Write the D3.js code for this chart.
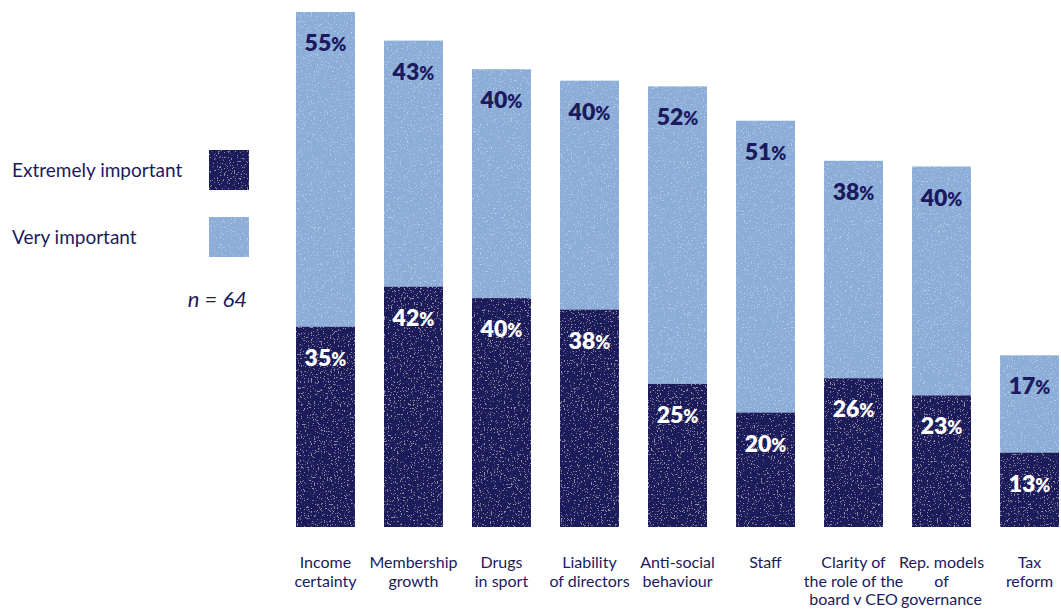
<!DOCTYPE html>
<html>
<head>
<meta charset="utf-8">
<script src="https://cdn.jsdelivr.net/npm/d3@7"></script>
<style>
  html, body { margin: 0; padding: 0; background: #fff; }
  svg { display: block; }
  text { font-family: Lato, "Open Sans", sans-serif; }
</style>
</head>
<body>
<svg id="chart" width="1061" height="612"></svg>
<script>
// Issues rated by importance (percent of respondents)
const categories = [
  ["Income", "certainty"],
  ["Membership", "growth"],
  ["Drugs", "in sport"],
  ["Liability", "of directors"],
  ["Anti-social", "behaviour"],
  ["Staff"],
  ["Clarity of", "the role of the", "board v CEO"],
  ["Rep. models", "of", "governance"],
  ["Tax", "reform"]
];
const extremelyImportant = [35, 42, 40, 38, 25, 20, 26, 23, 13];
const veryImportant      = [55, 43, 40, 40, 52, 51, 38, 40, 17];
const seriesNames = ["Extremely important", "Very important"];
const sampleNote = "n = 64";

const DARK = "#1c1a5b";
const LIGHT = "#8cadd7";
const INK = "#1c1a5e";

const svg = d3.select("#chart");

// light speckle texture, like ink on rough paper
const defs = svg.append("defs");
const f = defs.append("filter").attr("id", "grain")
  .attr("x", 0).attr("y", 0).attr("width", 1).attr("height", 1);
f.append("feTurbulence").attr("type", "fractalNoise")
  .attr("baseFrequency", 0.7).attr("numOctaves", 2).attr("seed", 4).attr("result", "noise");
f.append("feColorMatrix").attr("in", "noise").attr("type", "matrix")
  .attr("values", "0 0 0 0 1  0 0 0 0 1  0 0 0 0 1  0 0 0 14 -8.8").attr("result", "speck");
f.append("feComposite").attr("in", "speck").attr("in2", "SourceGraphic").attr("operator", "in").attr("result", "speckIn");
f.append("feComponentTransfer").attr("in", "speckIn").attr("result", "soft")
  .append("feFuncA").attr("type", "linear").attr("slope", 0.28);
const m = f.append("feMerge");
m.append("feMergeNode").attr("in", "SourceGraphic");
m.append("feMergeNode").attr("in", "soft");

const keys = categories.map(c => c.join(" "));
const x = d3.scaleBand().domain(keys).range([296, 1059]).paddingInner(0.33).paddingOuter(0);
const y = d3.scaleLinear().domain([0, 90]).range([527, 12]);

const rows = keys.map((k, i) => ({ key: k, lines: categories[i], ext: extremelyImportant[i], very: veryImportant[i] }));

const g = svg.append("g");
const bar = g.selectAll("g.bar").data(rows).join("g").attr("class", "bar");

// light (very important) segment sits on top of the dark one
bar.append("rect")
  .attr("x", d => x(d.key)).attr("width", x.bandwidth())
  .attr("y", d => y(d.ext + d.very)).attr("height", d => y(d.ext) - y(d.ext + d.very))
  .attr("fill", LIGHT).attr("filter", "url(#grain)");
bar.append("rect")
  .attr("x", d => x(d.key)).attr("width", x.bandwidth())
  .attr("y", d => y(d.ext)).attr("height", d => y(0) - y(d.ext))
  .attr("fill", DARK).attr("filter", "url(#grain)");

function pct(sel, val, top, color) {
  const t = sel.append("text")
    .attr("x", d => x(d.key) + x.bandwidth() / 2)
    .attr("y", d => top(d) + 39)
    .attr("text-anchor", "middle")
    .attr("fill", color)
    .attr("font-weight", 800)
    .attr("font-size", 23);
  t.append("tspan").text(d => val(d));
  t.append("tspan").attr("font-size", 18).text("%");
}
pct(bar, d => d.very, d => y(d.ext + d.very), INK);
pct(bar, d => d.ext, d => y(d.ext), "#ffffff");

// category labels
const lab = bar.append("text")
  .attr("text-anchor", "middle")
  .attr("fill", INK)
  .attr("font-size", 16);
lab.selectAll("tspan").data(d => d.lines.map(l => ({ l, key: d.key })))
  .join("tspan")
  .attr("x", d => x(d.key) + x.bandwidth() / 2)
  .attr("y", (d, i) => 568 + i * 18.5)
  .text(d => d.l);

// legend
const legend = svg.append("g");
const legColors = [DARK, LIGHT];
seriesNames.forEach((name, i) => {
  const yy = 150 + i * 67;
  legend.append("rect").attr("x", 209).attr("y", yy).attr("width", 40).attr("height", 40)
    .attr("fill", legColors[i]).attr("filter", "url(#grain)");
  legend.append("text").attr("x", 12).attr("y", yy + 27)
    .attr("fill", INK).attr("font-size", 19).text(name);
});
legend.append("text").attr("x", 247).attr("y", 307)
  .attr("text-anchor", "end").attr("fill", INK)
  .attr("font-size", 22).attr("font-style", "italic")
  .text(sampleNote);
</script>
</body>
</html>
